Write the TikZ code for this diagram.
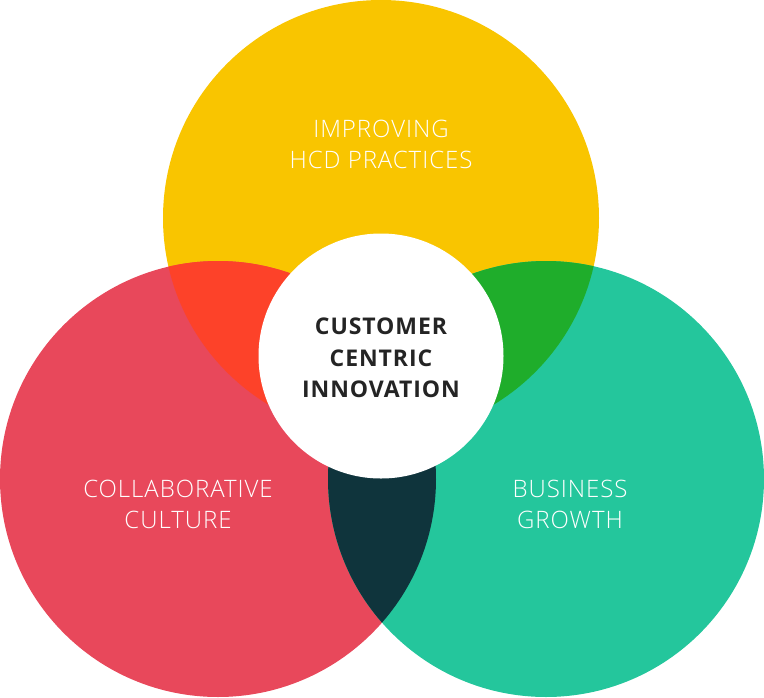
\documentclass[tikz,border=0pt]{standalone}
\usepackage{fontspec}
\setmainfont{Open Sans}[LetterSpace=4]
\newfontfamily\lightfont{Open Sans Light}[LetterSpace=4]
\definecolor{cyel}{HTML}{F9C500}
\definecolor{cred}{HTML}{E8485B}
\definecolor{cgrn}{HTML}{24C69C}
\definecolor{cora}{HTML}{FD4229}
\definecolor{cdgr}{HTML}{1FAD2B}
\definecolor{cdrk}{HTML}{0F343C}
\definecolor{ctxt}{HTML}{242424}
\tikzset{
  lbl/.style={text=white, align=center, font=\lightfont\fontsize{24}{31}\selectfont},
  ctr/.style={text=ctxt, align=center, font=\bfseries\fontsize{23}{31.5}\selectfont},
}
\begin{document}
\begin{tikzpicture}[x=1pt,y=-1pt]
\useasboundingbox (0,0) rectangle (764,697);
\def\Ytop{(381,218) circle (218)}
\def\Rleft{(218,479) circle (218)}
\def\Grt{(546,479) circle (218)}
\fill[cyel] \Ytop;
\fill[cred] \Rleft;
\fill[cgrn] \Grt;
\begin{scope}
  \clip \Rleft;
  \fill[cora] \Ytop;
\end{scope}
\begin{scope}
  \clip \Grt;
  \fill[cdgr] \Ytop;
\end{scope}
\begin{scope}
  \clip \Rleft;
  \fill[cdrk] \Grt;
\end{scope}
\fill[white] (381,356) circle (122.5);
\node[lbl] (top) at (381,144) {IMPROVING\\HCD PRACTICES};
\node[lbl] (left) at (178,504) {COLLABORATIVE\\CULTURE};
\node[lbl] (right) at (570,504) {BUSINESS\\GROWTH};
\node[ctr] (mid) at (381,358) {CUSTOMER\\CENTRIC\\INNOVATION};
\end{tikzpicture}
\end{document}
